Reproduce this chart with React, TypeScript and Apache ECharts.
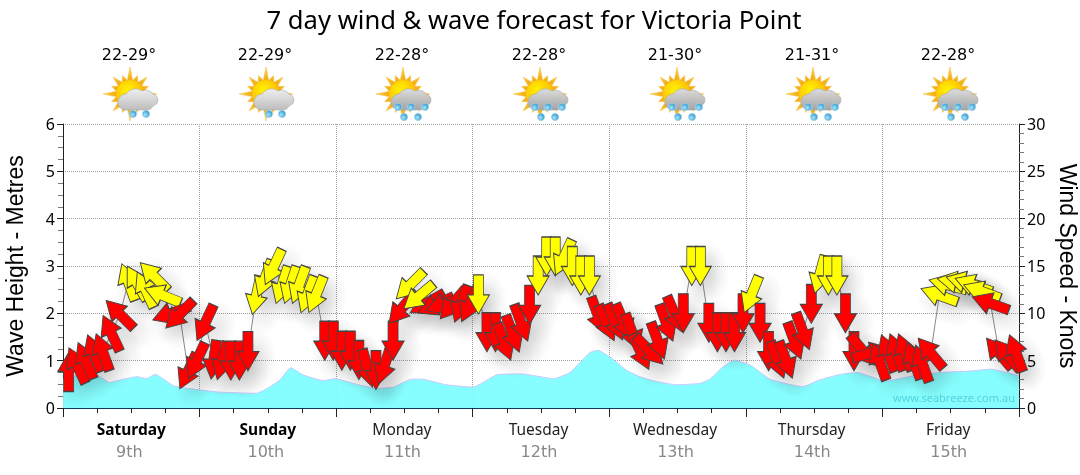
import React, { useEffect, useRef } from "react";
import * as echarts from "echarts";

const title = "7 day wind & wave forecast for Victoria Point";
const dayNames = ["Saturday", "Sunday", "Monday", "Tuesday", "Wednesday", "Thursday", "Friday"];
const dayDates = ["9th", "10th", "11th", "12th", "13th", "14th", "15th"];
const boldDays = ["Saturday", "Sunday"];
const dayMidHours = [12, 36, 60, 84, 108, 132, 156];
const tempRanges = ["22-29°", "22-29°", "22-28°", "22-28°", "21-30°", "21-31°", "22-28°"];
const rainyIcon = [false, false, true, true, true, true, true];

const forecastHours = [
  1, 2.5, 4, 5.5, 7, 8.5, 10, 11.5, 13, 14.5, 16, 17.5, 19, 20.5, 22, 23.5,
  25, 26.5, 28, 29.5, 31, 32.5, 34, 35.5, 37, 38.5, 40, 41.5, 43, 44.5, 46, 47.5,
  49, 50.5, 52, 53.5, 55, 56.5, 58, 59.5, 61, 62.5, 64, 65.5, 67, 68.5, 70, 71.5,
  73, 74.5, 76, 77.5, 79, 80.5, 82, 83.5, 85, 86.5, 88, 89.5, 91, 92.5, 94, 95.5,
  97, 98.5, 100, 101.5, 103, 104.5, 106, 107.5, 109, 110.5, 112, 113.5, 115, 116.5, 118, 119.5,
  121, 122.5, 124, 125.5, 127, 128.5, 130, 131.5, 133, 134.5, 136, 137.5, 139, 140.5, 142, 143.5,
  145, 146.5, 148, 149.5, 151, 152.5, 154, 155.5, 157, 158.5, 160, 161.5, 163, 164.5, 166, 167.5,
];
const windKnots = [
  3.8, 4.5, 5.0, 5.8, 5.9, 7.9, 9.9, 13.3, 13.2, 12.5, 13.9, 11.9, 10.0, 9.9, 3.9, 5.0,
  9.0, 5.1, 5.0, 5.0, 5.0, 6.0, 11.9, 13.7, 14.9, 13.0, 13.0, 13.0, 12.0, 12.0, 7.1, 7.1,
  6.05, 6.05, 5.07, 4.2, 4.0, 4.5, 7.1, 10.5, 13.0, 11.8, 11.1, 10.9, 11.0, 11.0, 11.0, 11.0,
  12.0, 8.0, 8.0, 7.0, 7.85, 9.0, 10.9, 14.0, 16.0, 16.0, 15.9, 15.0, 14.0, 14.0, 9.8, 9.0,
  9.1, 9.1, 8.0, 5.95, 6.1, 7.1, 9.0, 9.9, 10.0, 15.0, 15.0, 9.0, 8.0, 8.0, 8.0, 10.0,
  12.0, 9.0, 6.0, 5.1, 5.1, 7.1, 8.1, 11.0, 14.1, 14.0, 14.0, 10.0, 6.0, 6.1, 5.8, 4.9,
  5.8, 5.9, 5.9, 5.0, 4.7, 5.8, 11.9, 13.0, 13.3, 13.3, 13.0, 12.3, 11.05, 5.8, 5.6, 5.8,
];
const windFromDeg = [
  180, 155, 157, 160, 160, 155, 135, 160, 150, 155, 135, 112, 70, 45, 25, 25,
  25, 8, 15, 0, 0, 0, 12, 20, 25, 18, 18, 20, 20, 22, 0, 0,
  0, 0, 0, 345, 0, 18, 0, 40, 45, 50, 60, 65, 70, 40, 20, 25,
  0, 0, 0, 340, 340, 340, 0, 0, 0, 0, 25, 0, 0, 0, 340, 337,
  337, 337, 340, 335, 315, 340, 340, 337, 0, 0, 0, 0, 0, 0, 0, 0,
  22, 0, 0, 340, 340, 340, 340, 0, 15, 0, 0, 0, 0, 320, 255, 160,
  160, 160, 160, 160, 160, 140, 110, 105, 100, 105, 110, 110, 110, 140, 140, 160,
];
const strongWindKnots = 11.5;
const arrowsDrawnLast = [41];

const waveHours = [0, 3.6, 5.9, 8.2, 10.3, 13, 14.6, 16.2, 19.4, 21.7, 27, 34, 36.4, 38.1, 40, 42.2, 45.7, 47.8, 51.6, 55.1, 58, 61.3, 63, 67.4, 72.1, 76.2, 80.6, 86.2, 89.1, 92.6, 94, 96.1, 99, 101.4, 104.3, 107.8, 111.9, 113.7, 116, 118, 121, 124.2, 130, 132.9, 136.6, 139.5, 144.5, 149.4, 154.1, 159.4, 163, 168];
const waveMetres = [0.6, 0.72, 0.7, 0.54, 0.6, 0.66, 0.62, 0.71, 0.47, 0.42, 0.34, 0.31, 0.45, 0.59, 0.85, 0.7, 0.58, 0.62, 0.5, 0.415, 0.44, 0.61, 0.61, 0.49, 0.44, 0.7, 0.72, 0.62, 0.75, 1.17, 1.22, 1.08, 0.8, 0.66, 0.56, 0.49, 0.52, 0.61, 0.87, 1.01, 0.89, 0.61, 0.45, 0.59, 0.71, 0.75, 0.57, 0.68, 0.75, 0.78, 0.82, 0.68];

const arrowPath = "path://M6 0H16V20H22L11 39L0 20H6Z";
const shadowPath = "path://M20 0C31 0 40 13 40 30C40 47 31 60 20 60C9 60 0 47 0 30C0 13 9 0 20 0Z";
const UI_FONT = "'Noto Sans', sans-serif";
const WIDE_FONT = "'DejaVu Sans', sans-serif";
const NAME_FONT = "'Liberation Sans', sans-serif";

echarts.graphic.registerShape(
  "cloudShape",
  echarts.graphic.extendPath(
    "M8 22C3 22 0 18 0 14C0 9 4 6 8 6C11 1 19 -1 24 3C28 1 33 3 35 6C38 7 40 9 40 12C40 15 38 17 36 17C34 20 32 22 28 22Z",
    {}
  )
);

function starPoints() {
  const pts: number[][] = [];
  const spikes = 16;
  for (let i = 0; i < spikes; i++) {
    const a = (i / spikes) * Math.PI * 2 - Math.PI / 2;
    const outer = i % 4 === 0 ? 27 : i % 2 === 0 ? 24 : 20;
    pts.push([Math.cos(a) * outer, Math.sin(a) * outer]);
    const b = a + Math.PI / spikes;
    pts.push([Math.cos(b) * 14, Math.sin(b) * 14]);
  }
  return pts;
}

function drop(x: number, y: number) {
  return {
    type: "circle",
    x,
    y,
    shape: { r: 3.8 },
    style: {
      fill: new echarts.graphic.RadialGradient(0.4, 0.6, 0.7, [
        { offset: 0, color: "#a5e6fa" },
        { offset: 1, color: "#1f8cc8" },
      ]),
      stroke: "#cfe3ee",
      lineWidth: 0.5,
    },
  };
}

function icon(cx: number, rainy: boolean) {
  const drops = rainy
    ? [drop(-5, 13), drop(8, 13), drop(22, 13), drop(1, 23), drop(15, 23)]
    : [drop(3, 20), drop(16, 20)];
  return {
    type: "group",
    x: cx,
    y: 94,
    children: [
      {
        type: "polygon",
        shape: { points: starPoints() },
        style: {
          fill: new echarts.graphic.RadialGradient(0.5, 0.5, 0.5, [
            { offset: 0, color: "#ef9207" },
            { offset: 0.65, color: "#f6b41c" },
            { offset: 1, color: "#fcd75a" },
          ]),
          stroke: "#f3c24a",
          lineWidth: 0.5,
        },
      },
      {
        type: "circle",
        shape: { r: 14 },
        style: {
          fill: new echarts.graphic.RadialGradient(0.4, 0.35, 0.7, [
            { offset: 0, color: "#fff200" },
            { offset: 0.7, color: "#fdc407" },
            { offset: 1, color: "#f29a05" },
          ]),
        },
      },
      {
        type: "cloudShape",
        x: -12,
        y: -6,
        style: {
          fill: new echarts.graphic.LinearGradient(0, 0, 0, 1, rainy
            ? [{ offset: 0, color: "#dcdcdc" }, { offset: 1, color: "#a4a4a4" }]
            : [{ offset: 0, color: "#efefef" }, { offset: 1, color: "#bdbdbd" }]),
          stroke: "#a8a8a8",
          lineWidth: 0.6,
        },
      },
      ...drops,
    ],
  };
}

export default function App() {
  const ref = useRef<HTMLDivElement>(null);
  useEffect(() => {
    document.body.style.margin = "0";
    const chart = echarts.init(ref.current!, null, { renderer: "svg" });
    const iconXs = [130, 266, 403, 540, 677, 813, 950];
    const tempXs = [129, 265, 402, 539, 675, 812, 948];
    const wind = forecastHours.map((h, i) => [h, windKnots[i], windFromDeg[i]]);
    const drawnWind = [
      ...wind.filter((_, i) => !arrowsDrawnLast.includes(i)),
      ...arrowsDrawnLast.map((i) => wind[i]),
    ];
    const axisText = { color: "#000", fontFamily: UI_FONT, fontSize: 16 };
    chart.setOption({
      animation: false,
      title: {
        text: title,
        left: 529,
        top: 1,
        textAlign: "center",
        textStyle: { fontFamily: UI_FONT, fontWeight: "normal", fontSize: 25.6, color: "#000" },
      },
      grid: { left: 63, right: 61, top: 124, bottom: 67, outerBoundsMode: "none" },
      xAxis: {
        type: "value",
        min: 0,
        max: 168,
        interval: 24,
        axisLine: { onZero: false, lineStyle: { color: "#0b3c66", width: 1 } },
        axisTick: { length: 9, lineStyle: { color: "#222" } },
        minorTick: { show: true, splitNumber: 4, length: 5, lineStyle: { color: "#222" } },
        splitLine: { show: true, lineStyle: { color: "#a0a0a0", type: "dotted", width: 1 } },
        axisLabel: {
          customValues: dayMidHours,
          margin: 10,
          formatter: (v: number) => {
            const i = dayMidHours.indexOf(v);
            const key = boldDays.includes(dayNames[i]) ? "b" : "d";
            return `{${key}|${dayNames[i]}}\n{n|${dayDates[i]}}`;
          },
          rich: {
            d: { fontFamily: UI_FONT, fontSize: 15.5, color: "#222", lineHeight: 22, padding: [0, 5, 0, 0] },
            b: { fontFamily: UI_FONT, fontSize: 15.5, fontWeight: "bold", color: "#000", lineHeight: 22 },
            n: { fontFamily: WIDE_FONT, fontSize: 16, color: "#888", lineHeight: 23, padding: [0, 4, 0, 0] },
          },
        },
      },
      yAxis: [
        {
          type: "value",
          min: 0,
          max: 6,
          interval: 1,
          name: "Wave Height - Metres",
          nameLocation: "middle",
          nameGap: 37,
          nameRotate: 90,
          nameTextStyle: { fontFamily: NAME_FONT, fontSize: 23, color: "#000" },
          axisLine: { show: true, lineStyle: { color: "#222" } },
          axisTick: { show: true, length: 6, lineStyle: { color: "#222" } },
          minorTick: { show: true, splitNumber: 4, length: 5, lineStyle: { color: "#777" } },
          axisLabel: { ...axisText, margin: 8 },
          splitLine: { show: true, lineStyle: { color: "#a0a0a0", type: "dotted", width: 1 } },
        },
        {
          type: "value",
          min: 0,
          max: 30,
          interval: 5,
          name: "Wind Speed - Knots",
          nameLocation: "middle",
          nameGap: 36,
          nameRotate: -90,
          nameTextStyle: { fontFamily: NAME_FONT, fontSize: 23, color: "#000" },
          axisLine: { show: true, lineStyle: { color: "#222" } },
          axisTick: { show: true, length: 6, lineStyle: { color: "#222" } },
          minorTick: { show: true, splitNumber: 5, length: 5, lineStyle: { color: "#777" } },
          axisLabel: { ...axisText, margin: 8 },
          splitLine: { show: false },
        },
      ],
      graphic: [
        ...tempRanges.map((t, i) => ({
          type: "text",
          x: tempXs[i],
          y: 54,
          style: { text: t, fontFamily: WIDE_FONT, fontSize: 16, fill: "#000", textAlign: "center", textVerticalAlign: "middle" },
        })),
        ...rainyIcon.map((r, i) => icon(iconXs[i], r)),
        {
          type: "text",
          x: 893,
          y: 397,
          z: 50,
          style: {
            text: "www.seabreeze.com.au",
            fontFamily: UI_FONT,
            fontSize: 11,
            fill: "#55d2da",
            textVerticalAlign: "middle",
          },
        },
      ],
      series: [
        {
          type: "line",
          name: "Wave height",
          yAxisIndex: 0,
          data: waveHours.map((h, i) => [h, waveMetres[i]]),
          showSymbol: false,
          symbol: "none",
          smooth: 0.15,
          lineStyle: { color: "#c8c8ff", width: 1 },
          areaStyle: { color: "#7ffeff", opacity: 0.95 },
          z: 2,
        },
        {
          type: "line",
          name: "Wind trace",
          yAxisIndex: 1,
          data: wind.map((d) => [d[0], d[1]]),
          showSymbol: false,
          symbol: "none",
          lineStyle: { color: "#8a8a8a", width: 1 },
          z: 3,
        },
        {
          type: "scatter",
          name: "Wind shadow",
          yAxisIndex: 1,
          data: drawnWind,
          clip: false,
          silent: true,
          symbol: shadowPath,
          symbolSize: [42, 64],
          symbolOffset: [8, 8],
          symbolRotate: (v: number[]) => -v[2],
          itemStyle: {
            opacity: 1,
            color: new echarts.graphic.RadialGradient(0.5, 0.5, 0.5, [
              { offset: 0, color: "rgba(0,0,0,0.10)" },
              { offset: 0.55, color: "rgba(0,0,0,0.05)" },
              { offset: 1, color: "rgba(0,0,0,0)" },
            ]),
          },
          z: 3,
        },
        {
          type: "scatter",
          name: "Wind",
          yAxisIndex: 1,
          data: drawnWind,
          clip: false,
          symbol: arrowPath,
          symbolSize: [22, 39],
          symbolKeepAspect: false,
          symbolRotate: (v: number[]) => -v[2],
          itemStyle: {
            color: (p: any) => (p.value[1] >= strongWindKnots ? "#ffff00" : "#ff0000"),
            borderColor: "#444",
            borderWidth: 1,
            opacity: 1,
          },
          z: 4,
        },
      ],
    });
    return () => chart.dispose();
  }, []);
  return <div ref={ref} style={{ position: "fixed", left: 0, top: 0, width: 1080, height: 475 }} />;
}
